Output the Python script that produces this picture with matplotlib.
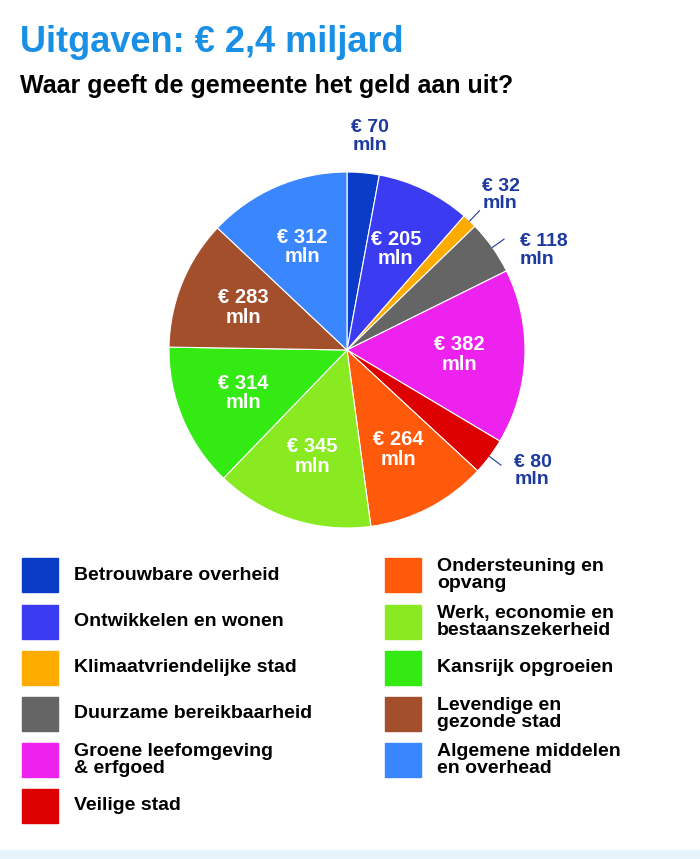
import matplotlib
matplotlib.use("Agg")
import matplotlib.pyplot as plt
import numpy as np
from matplotlib.patches import Rectangle

plt.rcParams['font.family'] = ['Liberation Sans', 'DejaVu Sans']

categories = ["Betrouwbare overheid", "Ontwikkelen en wonen", "Klimaatvriendelijke stad",
              "Duurzame bereikbaarheid", "Groene leefomgeving\n& erfgoed", "Veilige stad",
              "Ondersteuning en\nopvang", "Werk, economie en\nbestaanszekerheid", "Kansrijk opgroeien",
              "Levendige en\ngezonde stad", "Algemene middelen\nen overhead"]
values = [70, 205, 32, 118, 382, 80, 264, 345, 314, 283, 312]
colors = ["#0b3cc8", "#3b3bf2", "#ffab00", "#656565", "#ee22ee", "#dd0000",
          "#ff5a0c", "#8aea22", "#33ea12", "#a34f2c", "#3a86ff"]
outside = {0: (0.13, 1.20), 2: (0.76, 0.87), 3: (0.97, 0.56), 5: (0.94, -0.68)}

W, H = 700, 859
fig = plt.figure(figsize=(W/100, H/100), dpi=100)
fig.text(20/W, 1-42/H, "Uitgaven: € 2,4 miljard", color="#1a8fe6", fontsize=26,
         fontweight="bold", va="center")
fig.text(20/W, 1-86/H, "Waar geeft de gemeente het geld aan uit?", color="black",
         fontsize=18, fontweight="bold", va="center")

cx, cy, r = 347, 350, 178
ax = fig.add_axes([(cx-r)/W, 1-(cy+r)/H, 2*r/W, 2*r/H])
wedges, _ = ax.pie(values, colors=colors, startangle=90, counterclock=False,
                   wedgeprops=dict(edgecolor="white", linewidth=0.8))
ax.set_xlim(-1, 1); ax.set_ylim(-1, 1); ax.set_aspect("equal")
for i, w in enumerate(wedges):
    a = np.deg2rad((w.theta1 + w.theta2) / 2)
    txt = f"€ {values[i]}\nmln"
    if i in outside:
        lx, ly = outside[i]
        if i == 0:
            ax.text(lx, ly, txt, ha="center", va="center", color="#1d3a9e",
                    fontsize=14, fontweight="bold", linespacing=1.05, clip_on=False)
        else:
            ax.text(lx, ly, txt, ha="left", va="center", color="#1d3a9e",
                    fontsize=14, fontweight="bold", linespacing=1.05, clip_on=False)
            ax.plot([np.cos(a)*1.0, np.cos(a)*1.08], [np.sin(a)*1.0, np.sin(a)*1.08],
                    color="#1d3a9e", lw=0.8, clip_on=False)
    else:
        ax.text(np.cos(a)*0.63, np.sin(a)*0.63, txt, ha="center", va="center", color="white",
                fontsize=14.5, fontweight="bold", linespacing=1.05)

left_rows = [575, 622, 668, 714, 760, 806]
right_rows = [575, 622, 668, 714, 760]
pos = [(22, y) for y in left_rows] + [(385, y) for y in right_rows]
for k, (x, y) in enumerate(pos):
    fig.patches.append(Rectangle((x/W, 1-(y+17)/H), 36/W, 34/H, transform=fig.transFigure,
                                 color=colors[k]))
    fig.text((x+52)/W, 1-y/H, categories[k], fontsize=14, fontweight="bold",
             va="center", linespacing=1.0)

fig.patches.append(Rectangle((0, 0), 1, 9/H, transform=fig.transFigure, color="#e6f4fb"))
fig.savefig("out.png", dpi=100)
